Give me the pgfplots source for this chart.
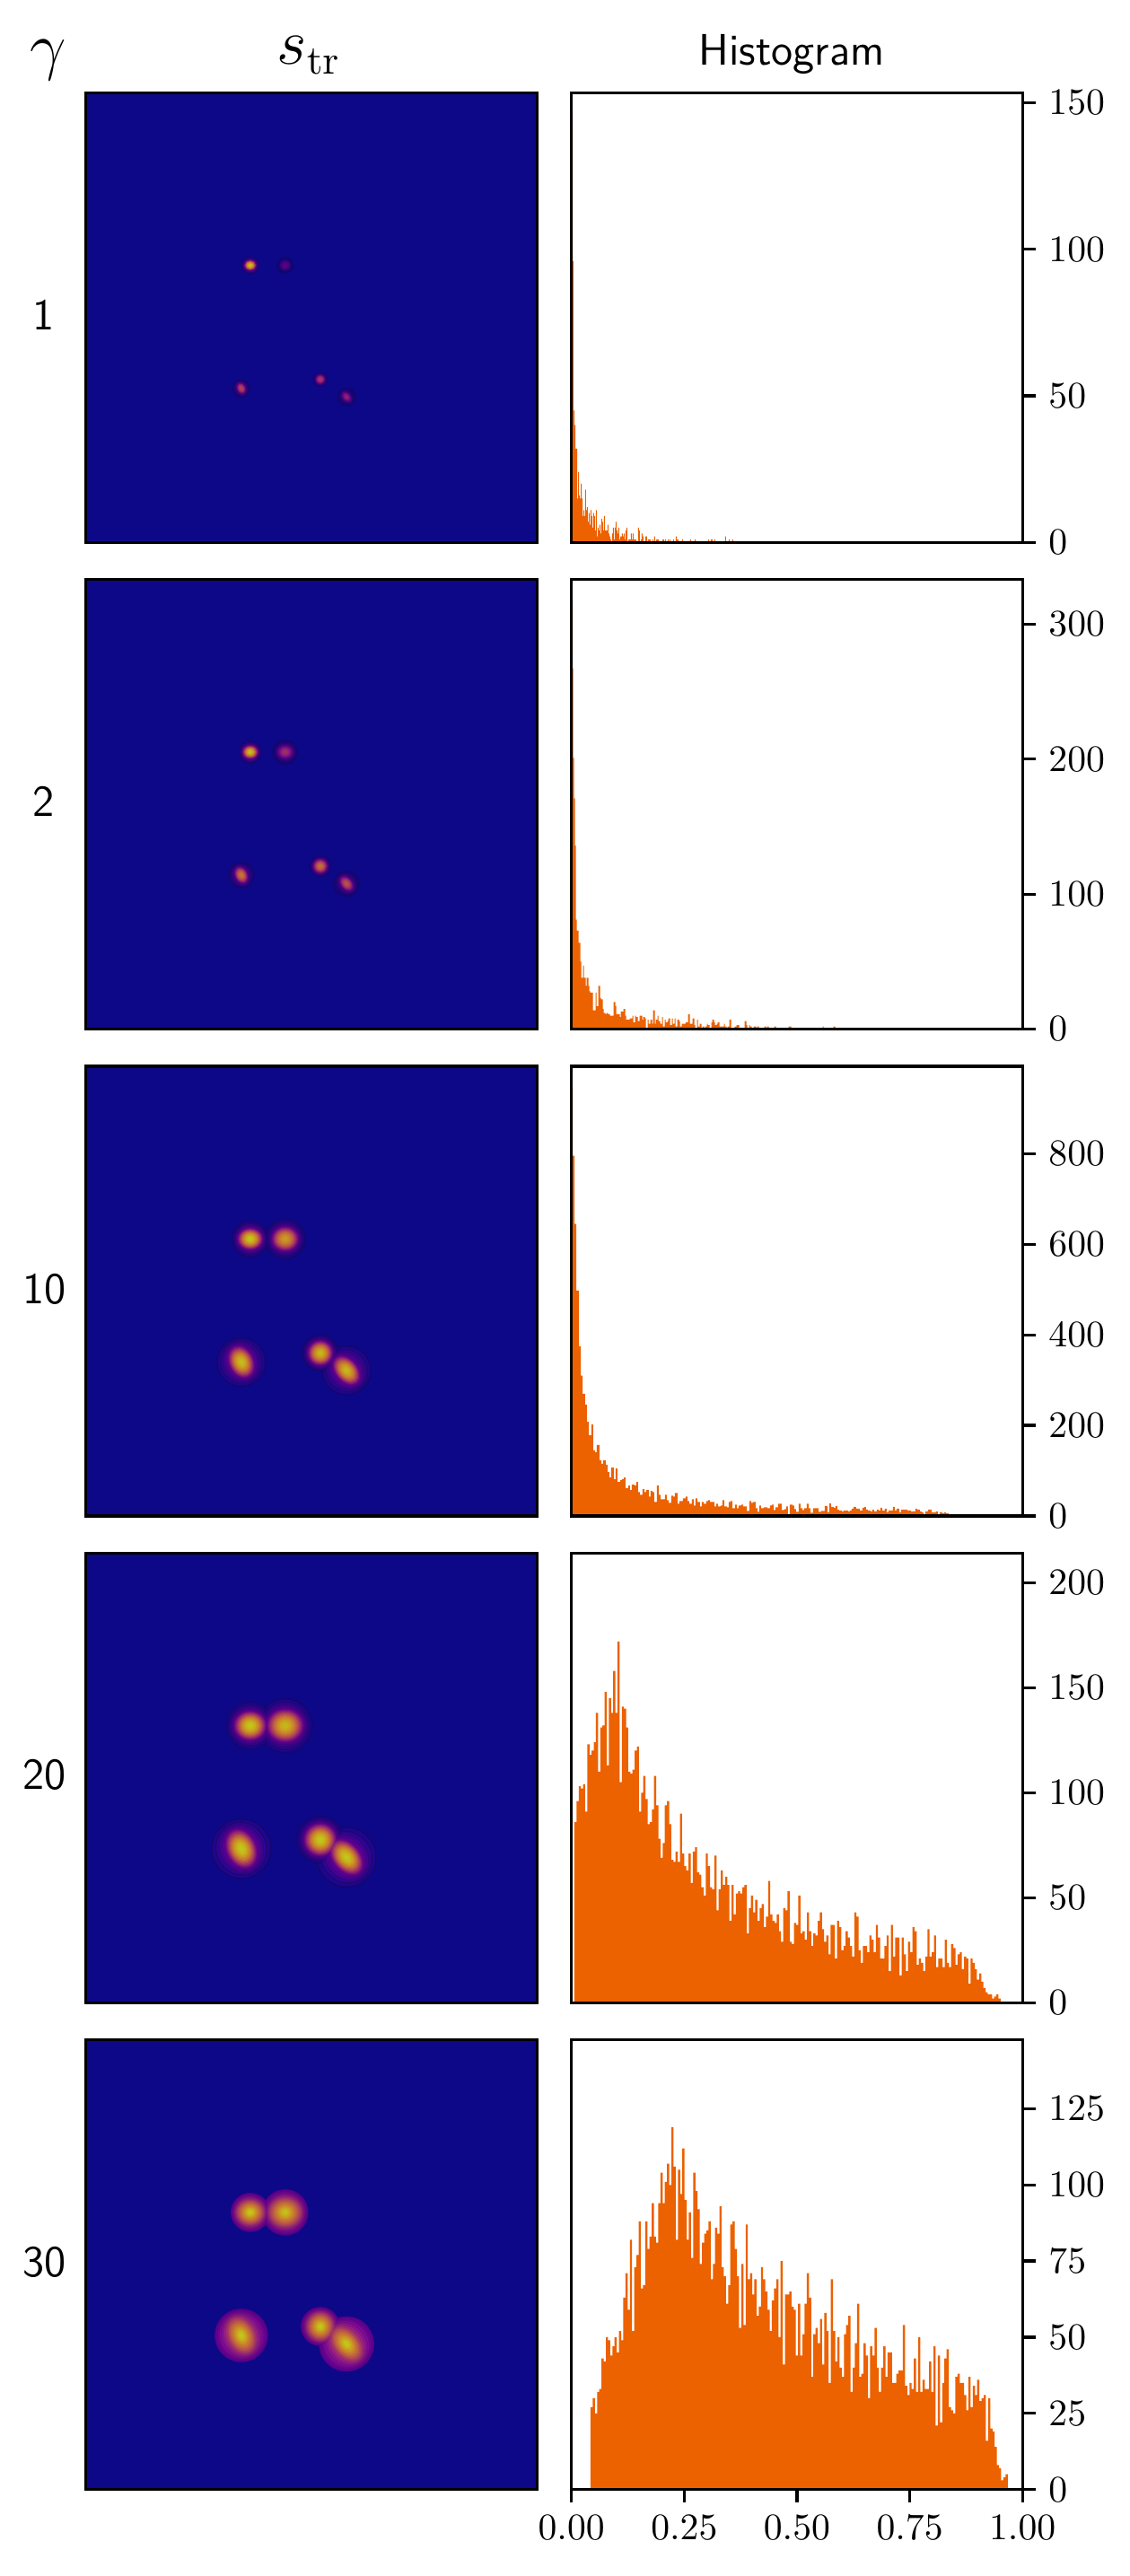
\documentclass[border=0pt]{standalone}
\usepackage{pgfplots}
\usepackage{pgfplotstable}
\pgfplotsset{compat=1.18}
\definecolor{histc}{RGB}{236,97,0}
\definecolor{bgc}{RGB}{13,8,135}
\pgfplotsset{
  colormap={plasma}{rgb255=(13,8,135) rgb255=(65,4,157) rgb255=(106,0,168) rgb255=(143,13,164) rgb255=(177,42,144) rgb255=(204,71,120) rgb255=(225,100,98) rgb255=(242,132,75) rgb255=(252,166,54) rgb255=(252,206,37) rgb255=(240,249,33)},
  heat/.style={scale only axis,width=120.7pt,height=120.2pt,anchor=south west,
    xmin=0,xmax=503.7,ymin=0,ymax=502,y dir=reverse,xtick=\empty,ytick=\empty,
    axis background/.style={fill=bgc},axis on top,axis line style={line width=.8pt},
    colormap name=plasma,point meta min=0,point meta max=1},
  hist/.style={scale only axis,width=120.6pt,height=120.2pt,anchor=south west,
    xmin=0,xmax=1,ymin=0,xtick=\empty,axis on top,axis line style={line width=.8pt},
    tick align=outside,major tick length=3.5pt,tick style={line width=.8pt,black},
    ytick pos=right,yticklabel pos=right,xtick pos=bottom,
    scaled y ticks=false,tick label style={font=\fontsize{10}{12}\selectfont}},
  barpl/.style={const plot mark left,fill=histc,draw=none,no markers},
  blobpl/.style={scatter,only marks,mark=*,scatter src=explicit}
}
\pgfplotstableread{
r v e
1.00 .20 0
.95 .23 .1
.90 .27 .2
.85 .31 .4
.80 .36 .6
.75 .41 .8
.70 .47 1
.65 .53 1
.60 .58 1
.55 .63 1
.50 .68 1
.45 .72 1
.40 .76 1
.35 .80 1
.30 .84 1
.25 .88 1
.20 .92 1
.15 .95 1
.10 .98 1
.05 1 1
}\pHard
\pgfplotstableread{
r v e
1.00 .03 0
.90 .06 .2
.82 .10 .4
.76 .15 .6
.71 .20 .8
.67 .26 1
.63 .32 1
.60 .38 1
.56 .45 1
.52 .52 1
.48 .59 1
.44 .66 1
.40 .72 1
.36 .77 1
.32 .82 1
.27 .87 1
.22 .91 1
.17 .95 1
.12 .975 1
.07 .99 1
.03 1 1
}\pSoft
\newcommand\blob[7]{%
  \addplot[blobpl,
    visualization depends on={\thisrow{r}*#4*0.24 \as \blobr},
    visualization depends on={1-\thisrow{e}*(1-#6) \as \bloba},
    scatter/@pre marker code/.append style={/tikz/mark size=\blobr pt,/tikz/rotate=#7,/tikz/xscale=\bloba,/tikz/line width=0.01pt}]
    table[x expr=#2,y expr=#3,meta expr=\thisrow{v}*#5]{#1};
}
% one level (one table row) of one blob, so that the blobs of a panel are painted level by level
\newcommand\blobL[8]{%
  \addplot[blobpl,restrict expr to domain={\coordindex}{#1:#1},
    visualization depends on={\thisrow{r}*#5*0.24 \as \blobr},
    visualization depends on={1-\thisrow{e}*(1-#7) \as \bloba},
    scatter/@pre marker code/.append style={/tikz/mark size=\blobr pt,/tikz/rotate=#8,/tikz/xscale=\bloba,/tikz/line width=0.01pt}]
    table[x expr=#3,y expr=#4,meta expr=\thisrow{v}*#6]{#2};
}
\newcommand\lv{\expandafter\blobL\expandafter{\curlvl}}
\newcommand\rowthree{%
\lv{\pSoft}{222.3}{192.6}{22}{.86}{.9}{90}
\lv{\pSoft}{183.3}{192.6}{20}{1}{.85}{90}
\lv{\pSoft}{173.3}{330}{27}{.97}{.72}{25}
\lv{\pSoft}{290.7}{339.5}{27}{.95}{.65}{40}
\lv{\pSoft}{261.5}{320}{20}{.95}{1}{0}}
\newcommand\rowfour{%
\lv{\pSoft}{222.3}{192.6}{30}{.95}{.9}{90}
\lv{\pSoft}{183.3}{192.6}{26}{1}{.9}{90}
\lv{\pSoft}{173.3}{330}{33}{1}{.72}{25}
\lv{\pSoft}{290.7}{339.5}{33}{1}{.65}{40}
\lv{\pSoft}{261.5}{320}{26}{1}{1}{0}}
\newcommand\rowfive{%
\lv{\pHard}{222.3}{192.6}{25}{.98}{.9}{90}
\lv{\pHard}{183.3}{192.6}{21}{1}{.9}{90}
\lv{\pHard}{173.3}{330}{29}{1}{.7}{25}
\lv{\pHard}{290.7}{339.5}{30}{1}{.64}{40}
\lv{\pHard}{261.5}{320}{21}{1}{.95}{0}}
\begin{document}
\begin{tikzpicture}
\path[use as bounding box] (0,0) rectangle (302.16pt,688.8pt);
% ---------- row 1
\begin{axis}[heat,at={(23pt,543.77pt)}]
\blob{\pSoft}{183.3}{192.6}{9}{.97}{.85}{90}
\blob{\pSoft}{222.3}{192.6}{8.5}{.22}{.9}{90}
\blob{\pSoft}{173.3}{330}{9.5}{.55}{.7}{25}
\blob{\pSoft}{261.5}{320}{7.5}{.5}{1}{0}
\blob{\pSoft}{290.7}{339.5}{9.5}{.4}{.65}{40}
\end{axis}
\begin{axis}[hist,at={(152.8pt,543.77pt)},ymax=153.4,ytick={0,50,100,150}]
\addplot[barpl] table[row sep=\\,header=false,x expr=(\thisrowno{0}-50)/1508,y index=1]{50 146\\54 96\\57 45\\60 40\\63 32\\69 15\\72 24\\75 16\\78 15\\81 20\\84 15\\87 9\\90 11\\93 9\\96 18\\99 11\\102 12\\105 7\\108 10\\111 6\\114 11\\117 9\\120 5\\123 10\\126 9\\129 4\\132 11\\135 2\\138 5\\141 4\\144 6\\147 3\\150 8\\153 7\\156 4\\159 9\\162 4\\171 6\\174 3\\177 2\\180 1\\183 0\\186 3\\189 5\\192 1\\195 5\\198 7\\201 4\\204 3\\207 5\\210 1\\213 2\\219 3\\222 2\\225 3\\228 1\\231 4\\234 5\\237 0\\240 1\\249 3\\252 1\\255 3\\258 1\\267 0\\273 5\\276 4\\279 0\\282 1\\285 3\\288 2\\291 0\\297 2\\303 0\\306 1\\315 0\\321 1\\324 0\\327 2\\330 0\\333 1\\342 0\\354 1\\360 0\\363 1\\366 0\\372 1\\375 0\\378 1\\381 0\\390 1\\393 0\\399 2\\402 1\\408 0\\420 1\\423 0\\447 1\\450 0\\462 1\\465 0\\507 1\\510 0\\516 1\\522 0\\528 1\\531 0\\564 2\\567 0\\576 1\\579 0\\588 1\\591 0\\1558 0\\}\closedcycle;
\end{axis}
% ---------- row 2
\begin{axis}[heat,at={(23pt,413.62pt)}]
\blob{\pSoft}{222.3}{192.6}{13.5}{.46}{.85}{90}
\blob{\pSoft}{183.3}{192.6}{12}{.97}{.85}{90}
\blob{\pSoft}{173.3}{330}{14}{.74}{.7}{25}
\blob{\pSoft}{261.5}{320}{11.5}{.72}{1}{0}
\blob{\pSoft}{290.7}{339.5}{14}{.6}{.65}{40}
\end{axis}
\begin{axis}[hist,at={(152.8pt,413.62pt)},ymax=333,ytick={0,100,200,300}]
\addplot[barpl] table[row sep=\\,header=false,x expr=(\thisrowno{0}-35)/1508,y expr={(\thisrowno{1}>0)*(\thisrowno{1}+1)}]{35 317\\39 266\\41 200\\44 170\\47 135\\50 80\\53 72\\59 63\\65 49\\68 37\\74 46\\77 37\\83 31\\86 37\\92 31\\95 27\\98 26\\107 13\\116 26\\119 16\\125 31\\131 22\\134 21\\140 14\\143 11\\149 10\\152 11\\158 10\\164 9\\176 19\\182 16\\185 10\\197 8\\200 12\\209 14\\215 9\\218 6\\230 7\\239 9\\242 4\\248 9\\251 8\\257 5\\263 9\\272 6\\275 8\\281 7\\284 0\\290 6\\293 3\\299 6\\305 3\\308 13\\314 3\\317 6\\323 9\\326 5\\332 3\\338 8\\341 1\\347 6\\350 4\\356 5\\359 7\\365 2\\371 7\\374 3\\380 7\\383 1\\389 6\\395 5\\398 1\\404 3\\417 4\\425 10\\431 3\\440 7\\446 2\\449 0\\455 6\\458 1\\464 3\\470 0\\473 1\\479 0\\482 1\\488 3\\491 2\\497 0\\503 4\\506 6\\512 4\\515 2\\521 3\\524 4\\530 1\\545 3\\548 1\\554 0\\557 1\\563 6\\569 0\\581 1\\587 2\\596 0\\614 5\\620 2\\623 0\\629 2\\632 1\\638 0\\644 1\\653 0\\656 1\\662 0\\680 1\\686 0\\689 1\\695 0\\713 1\\719 0\\761 1\\770 0\\875 1\\878 0\\911 1\\917 0\\1543 0\\}\closedcycle;
\end{axis}
% ---------- row 3
\begin{axis}[heat,at={(23pt,283.44pt)}]
\pgfplotsinvokeforeach{0,...,20}{\def\curlvl{#1}\rowthree}
\end{axis}
\begin{axis}[hist,at={(152.8pt,283.44pt)},ymax=993,ytick={0,200,400,600,800}]
\addplot[barpl] table[row sep=\\,header=false,x expr=(\thisrowno{0}-50)/1508,y expr={(\thisrowno{1}>0)*(\thisrowno{1}+3)}]{50 945\\54 793\\60 642\\66 495\\75 372\\81 307\\87 267\\96 243\\102 205\\108 175\\117 199\\123 142\\129 138\\135 154\\144 120\\150 112\\156 120\\165 110\\171 94\\177 82\\183 104\\192 78\\198 102\\204 72\\213 76\\219 78\\225 82\\231 58\\240 64\\246 54\\252 66\\261 64\\267 72\\273 50\\279 44\\288 56\\294 50\\300 54\\309 40\\315 52\\321 50\\327 28\\336 64\\342 44\\348 34\\363 44\\369 32\\375 26\\384 42\\390 40\\396 48\\405 24\\411 30\\423 36\\432 40\\438 30\\444 24\\453 34\\459 20\\465 36\\471 28\\480 18\\486 28\\492 24\\501 30\\507 32\\513 28\\528 18\\534 24\\540 18\\549 20\\555 32\\561 18\\570 16\\576 28\\582 30\\588 14\\597 22\\603 14\\609 20\\618 22\\624 18\\636 8\\645 30\\651 26\\657 28\\666 14\\672 6\\678 20\\684 14\\693 16\\705 14\\714 20\\720 22\\726 10\\732 16\\741 24\\753 10\\762 12\\768 18\\774 1\\780 22\\789 20\\795 12\\801 6\\810 24\\816 14\\822 10\\828 14\\837 24\\843 14\\849 4\\858 14\\876 6\\885 8\\897 19\\906 5\\912 25\\918 17\\927 15\\933 19\\939 11\\945 9\\954 7\\960 9\\975 7\\981 9\\987 13\\993 17\\1002 13\\1014 9\\1023 15\\1029 17\\1035 11\\1041 9\\1050 7\\1056 11\\1062 7\\1071 11\\1077 9\\1083 15\\1089 9\\1098 13\\1104 5\\1110 9\\1125 17\\1131 9\\1137 13\\1146 5\\1152 11\\1173 9\\1185 7\\1200 13\\1206 11\\1215 7\\1221 5\\1227 0\\1233 7\\1242 11\\1254 5\\1269 7\\1275 0\\1281 5\\1290 3\\1296 5\\1302 3\\1311 1\\1332 0\\1338 1\\1344 0\\1350 1\\1359 0\\1386 1\\1392 0\\1398 1\\1407 0\\1558 0\\}\closedcycle;
\end{axis}
% ---------- row 4
\begin{axis}[heat,at={(23pt,153.29pt)}]
\pgfplotsinvokeforeach{0,...,20}{\def\curlvl{#1}\rowfour}
\end{axis}
\begin{axis}[hist,at={(152.8pt,153.29pt)},ymax=214,ytick={0,50,100,150,200}]
\addplot[barpl] table[row sep=\\,header=false,x expr=0.0066+\coordindex*0.004773,y index=0]{86\\96\\103\\102\\104\\91\\123\\118\\120\\124\\138\\110\\131\\132\\148\\113\\145\\138\\158\\138\\172\\105\\141\\140\\131\\110\\109\\111\\120\\122\\91\\100\\108\\97\\85\\86\\92\\108\\94\\78\\69\\76\\94\\96\\85\\68\\67\\72\\67\\90\\71\\65\\63\\71\\57\\72\\74\\62\\61\\55\\51\\71\\65\\55\\54\\70\\44\\54\\63\\56\\60\\56\\39\\56\\42\\52\\53\\52\\55\\56\\33\\45\\51\\43\\49\\39\\45\\47\\36\\41\\58\\42\\39\\38\\42\\34\\29\\45\\44\\53\\29\\28\\38\\37\\51\\33\\34\\30\\43\\34\\27\\33\\32\\39\\43\\35\\29\\32\\23\\37\\37\\21\\39\\36\\25\\27\\34\\31\\27\\22\\43\\41\\25\\19\\27\\27\\24\\32\\30\\24\\37\\31\\21\\21\\27\\32\\15\\37\\22\\31\\31\\13\\31\\23\\15\\29\\24\\36\\34\\18\\21\\19\\15\\22\\35\\22\\24\\32\\17\\21\\21\\17\\30\\19\\17\\28\\26\\18\\23\\24\\16\\22\\21\\9\\21\\19\\16\\11\\14\\10\\7\\5\\4\\4\\2\\3\\4\\2\\0\\}\closedcycle;
\end{axis}
% ---------- row 5
\begin{axis}[heat,at={(23pt,23.14pt)}]
\pgfplotsinvokeforeach{0,...,19}{\def\curlvl{#1}\rowfive}
\end{axis}
\begin{axis}[hist,at={(152.8pt,23.14pt)},ymax=147.6,ytick={0,25,50,75,100,125},
  xtick={0,0.25,0.5,0.75,1},xticklabel style={/pgf/number format/.cd,fixed,fixed zerofill,precision=2}]
\addplot[barpl] table[row sep=\\,header=false,x expr=0.0424+\coordindex*0.004843,y index=0]{27\\30\\25\\32\\33\\43\\42\\50\\49\\44\\47\\50\\45\\52\\49\\63\\71\\59\\82\\52\\73\\77\\88\\66\\67\\88\\79\\83\\94\\83\\81\\94\\104\\94\\101\\107\\100\\119\\106\\82\\105\\97\\112\\95\\82\\91\\76\\104\\98\\92\\74\\81\\84\\85\\88\\69\\74\\86\\84\\93\\73\\70\\61\\67\\87\\88\\79\\70\\53\\74\\54\\87\\69\\71\\64\\69\\57\\60\\73\\69\\65\\59\\52\\62\\66\\69\\50\\75\\41\\64\\64\\65\\60\\59\\44\\61\\44\\51\\61\\71\\63\\37\\51\\53\\48\\56\\41\\58\\52\\35\\69\\52\\42\\50\\40\\37\\51\\54\\57\\32\\40\\48\\61\\37\\38\\48\\44\\30\\47\\44\\53\\40\\32\\40\\47\\37\\45\\45\\35\\35\\38\\39\\39\\54\\34\\31\\35\\33\\43\\32\\50\\32\\36\\33\\33\\42\\32\\47\\21\\44\\22\\35\\43\\46\\27\\26\\25\\37\\38\\35\\35\\31\\26\\37\\27\\34\\31\\36\\29\\30\\31\\16\\30\\20\\19\\14\\8\\7\\3\\4\\5\\0\\}\closedcycle;
\end{axis}
% ---------- labels
\node[font=\fontsize{16}{18}\selectfont] at (13pt,672.8pt) {$\gamma$};
\node[font=\fontsize{16}{18}\selectfont] at (82.56pt,674pt) {$s_{\mathrm{tr}}$};
\node[font=\fontsize{11.8}{14}\selectfont\sffamily] at (211.68pt,674.3pt) {Histogram};
\node[font=\fontsize{11.8}{14}\selectfont\sffamily] at (11.76pt,604.56pt) {1};
\node[font=\fontsize{11.8}{14}\selectfont\sffamily] at (11.76pt,474.48pt) {2};
\node[font=\fontsize{11.8}{14}\selectfont\sffamily] at (11.9pt,344.16pt) {10};
\node[font=\fontsize{11.8}{14}\selectfont\sffamily] at (11.9pt,214.3pt) {20};
\node[font=\fontsize{11.8}{14}\selectfont\sffamily] at (11.9pt,84pt) {30};
\end{tikzpicture}
\end{document}
